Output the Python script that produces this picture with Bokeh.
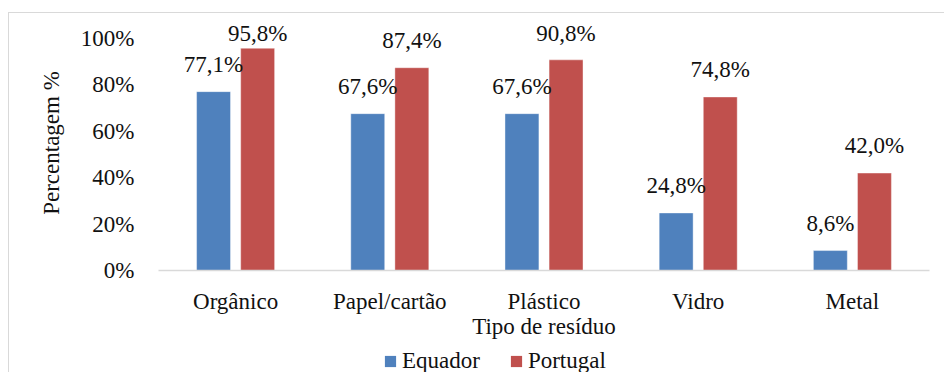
from bokeh.plotting import figure
from bokeh.layouts import column
from bokeh.models import (ColumnDataSource, LabelSet, Legend, LegendItem, FixedTicker,
                          CustomJSTickFormatter, FactorRange, Range1d)
from bokeh.transform import dodge
from bokeh.embed import file_html
from bokeh.resources import INLINE

categories = ["Orgânico", "Papel/cartão", "Plástico", "Vidro", "Metal"]
equador = [0.771, 0.676, 0.676, 0.248, 0.086]
portugal = [0.958, 0.874, 0.908, 0.748, 0.420]
series_names = ["Equador", "Portugal"]
y_ticks = [0.0, 0.2, 0.4, 0.6, 0.8, 1.0]

FONT = "Liberation Serif"
FS = "23px"
BLUE = "#4F81BD"
RED = "#C0504D"
TXT = "#111111"

def fmt(v):
    return f"{v*100:.1f}%".replace(".", ",")

PX = 232.0          # pixels per unit (100%)
OFF = 20            # label offset above bar
CAP = 0.991 - OFF / PX

src = ColumnDataSource(dict(
    cat=categories,
    eq=equador,
    pt=portugal,
    eq_lab=[fmt(v) for v in equador],
    pt_lab=[fmt(v) for v in portugal],
    eq_y=[min(v, CAP) for v in equador],
    pt_y=[min(v, CAP) for v in portugal],
))

p = figure(x_range=FactorRange(*categories, range_padding=0.0),
           y_range=(0, 255 / PX),
           width=936, height=333, output_backend="svg", toolbar_location=None,
           min_border_left=149, min_border_right=16, min_border_top=2, min_border_bottom=76)
p.x_range.range_padding = 0
p.outline_line_color = None
p.xgrid.grid_line_color = None
p.ygrid.grid_line_color = None

bw = 0.22
bar_kw = dict(width=bw, source=src, line_color="#ffffff", line_alpha=0.4, line_width=1)
p.vbar(x=dodge("cat", -0.143, range=p.x_range), top="eq", fill_color=BLUE, **bar_kw)
p.vbar(x=dodge("cat", 0.143, range=p.x_range), top="pt", fill_color=RED, **bar_kw)

for ycol, lab, dx in [("eq_y", "eq_lab", -0.143), ("pt_y", "pt_lab", 0.143)]:
    ls = LabelSet(x=dodge("cat", dx, range=p.x_range), y=ycol, text=lab, source=src,
                  y_offset=OFF, text_align="center", text_baseline="alphabetic",
                  text_font=FONT, text_font_size=FS, text_color=TXT)
    p.add_layout(ls)

# y axis
p.yaxis.ticker = FixedTicker(ticks=y_ticks)
p.yaxis.formatter = CustomJSTickFormatter(code="return Math.round(tick*100) + '%';")
p.yaxis.axis_line_color = None
p.yaxis.major_tick_line_color = None
p.yaxis.minor_tick_line_color = None
p.yaxis.major_tick_out = 0
p.yaxis.major_label_standoff = 24
p.yaxis.major_label_text_font = FONT
p.yaxis.major_label_text_font_size = FS
p.yaxis.major_label_text_color = TXT
p.yaxis.axis_label = "Percentagem %"
p.yaxis.axis_label_text_font = FONT
p.yaxis.axis_label_text_font_size = FS
p.yaxis.axis_label_text_font_style = "normal"
p.yaxis.axis_label_text_color = TXT
p.yaxis.axis_label_standoff = 14

# x axis
p.xaxis.axis_line_color = "#d9d9d9"
p.xaxis.axis_line_width = 1.5
p.xaxis.major_tick_line_color = None
p.xaxis.minor_tick_line_color = None
p.xaxis.major_tick_out = 0
p.xaxis.major_label_standoff = 18
p.xaxis.major_label_text_font = FONT
p.xaxis.major_label_text_font_size = FS
p.xaxis.major_label_text_color = TXT
p.xaxis.axis_label = "Tipo de resíduo"
p.xaxis.axis_label_text_font = FONT
p.xaxis.axis_label_text_font_size = FS
p.xaxis.axis_label_text_font_style = "normal"
p.xaxis.axis_label_text_color = TXT
p.xaxis.axis_label_standoff = -3

# legend in its own strip below the chart (the series bars there lie below its view)
lf = figure(x_range=FactorRange(*categories), y_range=Range1d(50, 51),
            width=936, height=30, output_backend="svg", toolbar_location=None,
            x_axis_type=None, y_axis_type=None, min_border=0)
lf.outline_line_color = None
lf.xgrid.grid_line_color = None
lf.ygrid.grid_line_color = None
g1 = lf.vbar(x="cat", top="eq", width=bw, source=src, fill_color=BLUE, line_color=None)
g2 = lf.vbar(x="cat", top="pt", width=bw, source=src, fill_color=RED, line_color=None)
legend = Legend(items=[LegendItem(label=series_names[0], renderers=[g1]),
                       LegendItem(label=series_names[1], renderers=[g2])],
                orientation="horizontal", location=(225, 2),
                label_text_font=FONT, label_text_font_size=FS, label_text_color=TXT,
                glyph_width=14, glyph_height=14, label_standoff=5, spacing=29,
                padding=0, margin=0, border_line_color=None, background_fill_alpha=0)
lf.add_layout(legend)

layout = column(p, lf, spacing=0, margin=(12, 0, 0, 8),
                styles={"border-top": "1px solid #d9d9d9", "border-left": "1px solid #d9d9d9"})

open("out.html", "w").write(file_html(layout, INLINE))
